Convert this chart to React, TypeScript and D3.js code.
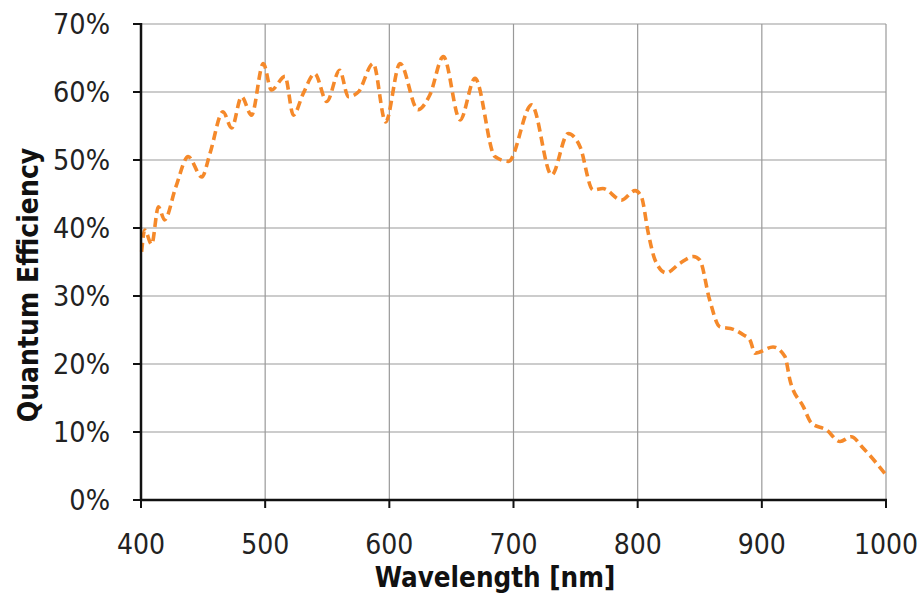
import React from "react";
import * as d3 from "d3";

const wavelengths = [400.5, 403, 408.6, 414, 419, 428, 438, 449, 455.6, 466, 473, 481, 489, 498.5, 505, 516, 522.7, 530.7, 540, 549.6, 560, 567, 575, 587, 597, 608.6, 623, 632.7, 643.5, 657, 669, 685, 696, 714.6, 730.7, 744, 753.5, 764, 772, 787, 798, 803, 808.6, 814, 823, 834, 844.8, 850, 858, 866, 877, 885, 890.5, 894.5, 909, 918.6, 922.7, 933.5, 940, 952, 963, 972, 981.7, 1000];
const efficiency = [36.5, 39.7, 37.6, 43.1, 41.2, 46, 50.5, 47.5, 51, 57.1, 54.7, 59.3, 56.6, 64.2, 60.3, 62.3, 56.6, 59.8, 62.7, 58.6, 63.2, 59.3, 60, 64.2, 55.6, 64.2, 57.4, 59.6, 65.2, 55.9, 62, 50.5, 49.8, 58.1, 47.8, 53.9, 52, 45.6, 45.8, 44.1, 45.5, 44.6, 39.2, 35.3, 33.4, 34.8, 35.8, 35.3, 29.4, 25.5, 25.1, 24.3, 23.5, 21.6, 22.5, 21.1, 17.6, 13.7, 11.3, 10.3, 8.6, 9.3, 7.6, 3.7];
const xTicks = [400, 500, 600, 700, 800, 900, 1000];
const yTicks = [0, 10, 20, 30, 40, 50, 60, 70];

const W = 921, H = 593;
const left = 141, right = 886, top = 24, bottom = 500;
const font = "'DejaVu Sans Condensed', 'Liberation Sans Narrow', 'Noto Sans', sans-serif";

export default function App() {
  const x = d3.scaleLinear().domain([400, 1000]).range([left, right]);
  const y = d3.scaleLinear().domain([0, 70]).range([bottom, top]);
  const pts = wavelengths.map((w, i) => [w, efficiency[i]] as [number, number]);
  const line = d3.line<[number, number]>().x(d => x(d[0])).y(d => y(d[1])).curve(d3.curveMonotoneX);
  return (
    <svg width={W} height={H} style={{ position: "absolute", left: 0, top: 0, background: "#fff" }}>
      {yTicks.map(t => (
        <line key={"gy" + t} x1={left} x2={right} y1={y(t)} y2={y(t)} stroke="#999" strokeWidth={1.2} />
      ))}
      {xTicks.map(t => (
        <line key={"gx" + t} x1={x(t)} x2={x(t)} y1={top} y2={bottom} stroke="#999" strokeWidth={1.2} />
      ))}
      <path d={line(pts) || ""} fill="none" stroke="#F5892A" strokeWidth={3.6} strokeDasharray="9 5" />
      <line x1={left} x2={left} y1={top - 1} y2={bottom + 1} stroke="#111" strokeWidth={2.5} />
      <line x1={left - 1} x2={right + 1} y1={bottom} y2={bottom} stroke="#111" strokeWidth={2.5} />
      {yTicks.map(t => (
        <g key={"ty" + t}>
          <line x1={left - 8} x2={left} y1={y(t)} y2={y(t)} stroke="#111" strokeWidth={2} />
          <text x={left - 31} y={y(t)} dy="0.36em" textAnchor="end" fontSize={28.5} fontFamily={font} fill="#222">{t}%</text>
        </g>
      ))}
      {xTicks.map(t => (
        <g key={"tx" + t}>
          <line x1={x(t)} x2={x(t)} y1={bottom} y2={bottom + 8} stroke="#111" strokeWidth={2} />
          <text x={x(t)} y={554} textAnchor="middle" fontSize={28} fontFamily={font} fill="#222">{t}</text>
        </g>
      ))}
      <text x={495} y={587} textAnchor="middle" fontSize={27.5} fontWeight="bold" fontFamily={font} fill="#111">Wavelength [nm]</text>
      <text transform="translate(38,285) rotate(-90)" textAnchor="middle" fontSize={28} fontWeight="bold" fontFamily={font} fill="#111">Quantum Efficiency</text>
    </svg>
  );
}
